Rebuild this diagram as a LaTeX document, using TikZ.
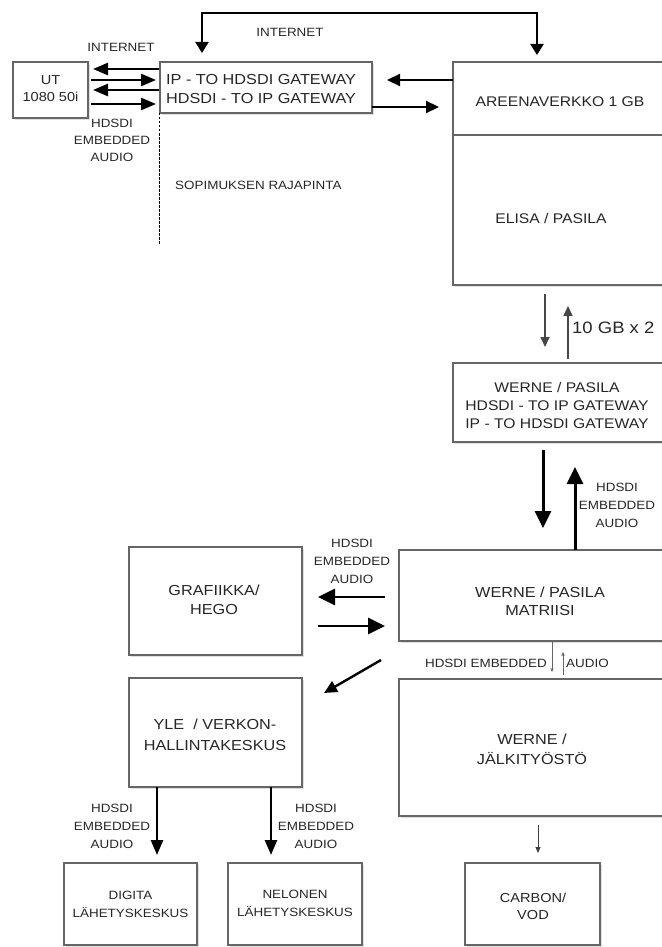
\documentclass[tikz,border=0pt]{standalone}
\usepackage{fontspec}
\setmainfont{Liberation Sans}[FakeStretch=1.12]
\usetikzlibrary{arrows.meta,shadows,calc}
\begin{document}
\begin{tikzpicture}[x=1pt,y=-1pt,
  box/.style={draw=black!60, line width=2.2pt, fill=white, inner sep=0pt, outer sep=0pt,
    drop shadow={shadow xshift=2pt, shadow yshift=-2pt, opacity=0.25}},
  bt/.style={font=\fontsize{14.5}{19}\selectfont, align=center, text=black!85, inner sep=0pt},
  st/.style={font=\fontsize{12}{17.5}\selectfont, align=center, text=black!85, inner sep=0pt},
  thk/.style={line width=2.6pt, -{Triangle[length=15pt,width=12pt]}},
  med/.style={line width=2.2pt, -{Triangle[length=13pt,width=12pt]}},
  big/.style={line width=3pt, -{Triangle[length=17pt,width=16pt]}},
  thn/.style={line width=1.6pt, draw=black!72, -{Triangle[length=10pt,width=9pt]}},
  tiny/.style={line width=0.8pt, draw=black!60, -{Triangle[length=3.5pt,width=3pt]}},
  sml/.style={line width=1pt, draw=black!75, -{Triangle[length=6pt,width=5pt]}},
  dbl/.style={line width=2.2pt, {Triangle[length=11pt,width=13pt]}-{Triangle[length=11pt,width=13pt]}}
]
\useasboundingbox (0,0) rectangle (661,947);

% boxes
\node[box, minimum width=75pt, minimum height=56pt] (ut) at (50.5,90) {};
\node[box, minimum width=212pt, minimum height=51pt] (gw) at (266,87.5) {};
\node[box, minimum width=216pt, minimum height=223pt] (elisa) at (561,173.5) {};
\node[inner sep=0pt, outer sep=0pt, minimum width=216pt, minimum height=73pt] (areena) at (561,98.5) {};
\draw[draw=black!60, line width=2.2pt] (areena.south west) -- (areena.south east);
\node[box, minimum width=216pt, minimum height=79pt] (wgw) at (561,402.5) {};
\node[box, minimum width=282pt, minimum height=91pt] (matriisi) at (540,595.5) {};
\node[box, minimum width=173pt, minimum height=108pt] (graf) at (215.5,601) {};
\node[box, minimum width=173pt, minimum height=109pt] (yle) at (215.5,732.5) {};
\node[box, minimum width=269pt, minimum height=137pt] (jalki) at (533.5,747.5) {};
\node[box, minimum width=133pt, minimum height=82pt] (digita) at (130.5,904) {};
\node[box, minimum width=134pt, minimum height=82pt] (nelonen) at (295,904) {};
\node[box, minimum width=135pt, minimum height=82pt] (carbon) at (532.5,904) {};

% texts
\node[bt, font=\fontsize{13}{17}\selectfont] (tUt) at (50.5,88.5) {UT\\1080 50i};
\node[bt, anchor=west, align=left] (tGw) at (166,89.5) {IP - TO HDSDI GATEWAY\\HDSDI - TO IP GATEWAY};
\node[bt, font=\fontsize{14}{19}\selectfont] (tAreena) at (560,102) {AREENAVERKKO 1 GB};
\node[bt, font=\fontsize{14}{19}\selectfont] (tElisa) at (551,218) {ELISA / PASILA};
\node[bt, font=\fontsize{14}{18}\selectfont] (tWgw) at (557,405) {WERNE / PASILA\\HDSDI - TO IP GATEWAY\\IP - TO HDSDI GATEWAY};
\node[bt, font=\fontsize{14.5}{18}\selectfont] (tMat) at (540,601) {WERNE / PASILA\\MATRIISI};
\node[bt] (tGraf) at (214,600) {GRAFIIKKA/\\HEGO};
\node[bt, font=\fontsize{14.5}{21}\selectfont] (tYle) at (215,735) {YLE \ / VERKON-\\HALLINTAKESKUS};
\node[bt, font=\fontsize{14.5}{20}\selectfont] (tJalki) at (532,749) {WERNE /\\JÄLKITYÖSTÖ};
\node[st, font=\fontsize{12}{18}\selectfont] (tDig) at (130.5,904) {DIGITA\\LÄHETYSKESKUS};
\node[st, font=\fontsize{12}{18}\selectfont] (tNel) at (295,903) {NELONEN\\LÄHETYSKESKUS};
\node[st, font=\fontsize{13}{17}\selectfont] (tCarb) at (533,906) {CARBON/\\VOD};

\node[st] (tInetTop) at (290,32) {INTERNET};
\node[st] (tInetL) at (121,47) {INTERNET};
\node[st, font=\fontsize{12}{17}\selectfont] (tHdL) at (112,140) {HDSDI\\EMBEDDED\\AUDIO};
\node[st, anchor=west] (tSop) at (175,185) {SOPIMUKSEN RAJAPINTA};
\node[st, anchor=west, font=\fontsize{16.5}{20}\selectfont] (t10) at (572,328) {10 GB x 2};
\node[st, font=\fontsize{12}{18}\selectfont] (tHdR) at (617,505) {HDSDI\\EMBEDDED\\AUDIO};
\node[st, font=\fontsize{12}{18}\selectfont] (tHdG) at (352,561) {HDSDI\\EMBEDDED\\AUDIO};
\node[st, anchor=east] (tHdM) at (547,663) {HDSDI EMBEDDED};
\node[st, anchor=west] (tAuM) at (566,663) {AUDIO};
\node[st, font=\fontsize{12}{18}\selectfont] (tHdY1) at (112,826) {HDSDI\\EMBEDDED\\AUDIO};
\node[st, font=\fontsize{12}{18}\selectfont] (tHdY2) at (316,826) {HDSDI\\EMBEDDED\\AUDIO};

% coordinates for connectors
\coordinate (inL) at (202,13);
\coordinate (inR) at (537,13);
\coordinate (dashEnd) at (159,245);
\coordinate (dgS) at (381,660);
\coordinate (dgE) at (324,693);

% top internet loop
\draw[dbl, shorten <=9pt, shorten >=7pt] (gw.north -| inL) -- (inL) -- (inR) -- (areena.north -| inR);

% UT <-> gateway
\draw[thk, shorten <=1pt, shorten >=5pt] (gw.west |- 0,69) -- (ut.east |- 0,69);
\draw[thk, shorten <=3pt, shorten >=4pt] (ut.east |- 0,80) -- (gw.west |- 0,80);
\draw[thk, shorten <=1pt, shorten >=5pt] (gw.west |- 0,90) -- (ut.east |- 0,90);
\draw[thk, shorten <=3pt, shorten >=4pt] (ut.east |- 0,104) -- (gw.west |- 0,104);

% dashed boundary
\draw[line width=1pt, dash pattern=on 2.5pt off 1.5pt] (gw.south -| dashEnd) -- (dashEnd);

% gateway <-> areena
\draw[med, shorten >=15pt] (areena.west |- 0,80) -- (gw.east |- 0,80);
\draw[med, shorten >=14pt] (gw.east |- 0,107) -- (areena.west |- 0,107);

% elisa <-> werne gateway
\draw[thn, shorten <=9pt, shorten >=16pt] (elisa.south -| 545,0) -- (wgw.north -| 545,0);
\draw[thn, shorten <=4pt, shorten >=21pt] (wgw.north -| 568,0) -- (elisa.south -| 568,0);

% werne gateway <-> matriisi
\draw[big, shorten <=8pt, shorten >=22pt] (wgw.south -| 543,0) -- (matriisi.north -| 543,0);
\draw[big, shorten >=25pt] (matriisi.north -| 575,0) -- (wgw.south -| 575,0);

% matriisi <-> grafiikka
\draw[big, line width=2.8pt, shorten <=14pt, shorten >=16pt] (matriisi.west |- 0,597) -- (graf.east |- 0,597);
\draw[big, line width=2.8pt, shorten <=16pt, shorten >=14pt] (graf.east |- 0,626) -- (matriisi.west |- 0,626);

% matriisi -> yle
\draw[thk, line width=2.4pt, -{Triangle[length=13pt,width=12pt]}] (dgS) -- (dgE);

% matriisi <-> jalkityosto
\draw[tiny, shorten >=7pt] (matriisi.south -| 552,0) -- (jalki.north -| 552,0);
\draw[tiny, shorten <=4pt, shorten >=11pt] (jalki.north -| 563,0) -- (matriisi.south -| 563,0);

% jalkityosto -> carbon
\draw[sml, shorten <=9pt, shorten >=10pt] (jalki.south -| 538,0) -- (carbon.north -| 538,0);

% yle -> digita / nelonen
\draw[thk, -{Triangle[length=15pt,width=12pt]}, shorten >=8pt] (yle.south -| 157,0) -- (digita.north -| 157,0);
\draw[thk, -{Triangle[length=15pt,width=12pt]}, shorten >=8pt] (yle.south -| 271,0) -- (nelonen.north -| 271,0);

\end{tikzpicture}
\end{document}
